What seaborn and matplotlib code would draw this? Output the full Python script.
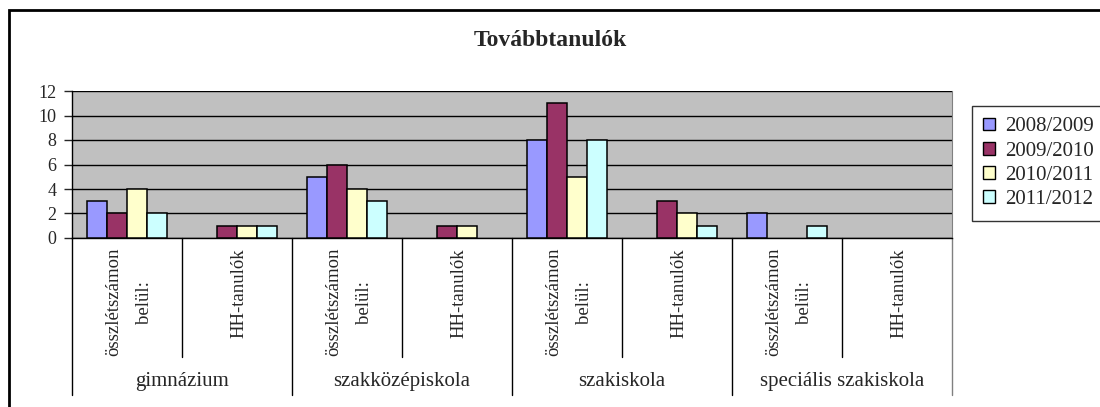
import pandas as pd
import seaborn as sns
import matplotlib.pyplot as plt
from matplotlib.lines import Line2D
from matplotlib.patches import Rectangle
from matplotlib.transforms import blended_transform_factory

# data
groups = ["gimnázium", "szakközépiskola", "szakiskola", "speciális szakiskola"]
sub_labels = ["összlétszámon\nbelül:", "HH-tanulók"]
years = ["2008/2009", "2009/2010", "2010/2011", "2011/2012"]
v_2008 = [3, 0, 5, 0, 8, 0, 2, 0]
v_2009 = [2, 1, 6, 1, 11, 3, 0, 0]
v_2010 = [4, 1, 4, 1, 5, 2, 0, 0]
v_2011 = [2, 1, 3, 0, 8, 1, 1, 0]
colors = ["#9999FF", "#993366", "#FFFFCC", "#CCFFFF"]

n_cat = len(groups) * len(sub_labels)
rows = []
for year, vals in zip(years, [v_2008, v_2009, v_2010, v_2011]):
    for i, v in enumerate(vals):
        rows.append({"cat": i, "year": year, "value": v})
df = pd.DataFrame(rows)

sns.set_style("white")
plt.rcParams["font.family"] = ["Liberation Serif", "DejaVu Serif"]

fig = plt.figure(figsize=(11, 4.07), dpi=100)
ax = fig.add_axes([72 / 1100, 1 - 238 / 407, 880 / 1100, 147 / 407])
ax.set_facecolor("#C0C0C0")

sns.barplot(data=df, x="cat", y="value", hue="year", hue_order=years,
            palette=colors, width=0.73, gap=0, edgecolor="black",
            linewidth=1.1, saturation=1, ax=ax, zorder=3, legend=False)
# empty bars are not drawn in the reference
for p in ax.patches:
    if p.get_height() == 0:
        p.set_visible(False)

ax.set_xlim(-0.5, n_cat - 0.5)
ax.set_ylim(0, 12)
ax.set_yticks(range(0, 13, 2))
ax.tick_params(axis="y", labelsize=13, length=6, width=1, direction="out",
               left=True, pad=5)
ax.set_xticks([])
ax.set_xlabel("")
ax.set_ylabel("")
ax.yaxis.grid(True, color="black", linewidth=1, zorder=1)
ax.set_axisbelow(True)
for s in ["left", "bottom"]:
    ax.spines[s].set_color("black")
    ax.spines[s].set_linewidth(1)
ax.spines["top"].set_visible(False)
ax.spines["right"].set_color("#808080")

# category axis: rotated sub labels, dividers and group names
tr = blended_transform_factory(ax.transData, ax.transAxes)
for i in range(n_cat):
    ax.text(i + 0.02, -0.068, sub_labels[i % 2], rotation=90, ha="center",
            va="top", multialignment="center", fontsize=13.5, transform=tr,
            linespacing=2.0)
for b in range(n_cat + 1):
    x = b - 0.5
    low = -1.068 if b % 2 == 0 else -0.81
    ax.add_line(Line2D([x, x], [0, low], color="#808080" if b == n_cat else "black",
                       linewidth=1, transform=tr, clip_on=False))
for g, name in enumerate(groups):
    ax.text(2 * g + 0.5, -0.973, name, ha="center", va="center",
            fontsize=15, transform=tr)

fig.text(0.5, 1 - 41 / 407, "Továbbtanulók", ha="center", va="center",
         fontsize=17, fontweight="bold")

# outer chart border
fig.patches.append(Rectangle((9 / 1100, -0.1), 1.2, 1 - 10 / 407 + 0.1,
                             transform=fig.transFigure, fill=False,
                             edgecolor="black", linewidth=2))

handles = [Rectangle((0, 0), 1, 1, facecolor=c, edgecolor="black", linewidth=1)
           for c in colors]
leg = fig.legend(handles, years, loc="upper left",
                 bbox_to_anchor=(972 / 1100, 1 - 106 / 407), fontsize=15,
                 frameon=True, fancybox=False, handlelength=0.55,
                 handleheight=0.55, handletextpad=0.5, labelspacing=0.25,
                 borderpad=0.55, borderaxespad=0)
leg.get_frame().set_edgecolor("black")
leg.get_frame().set_linewidth(1)

fig.savefig("out.png", dpi=100)
